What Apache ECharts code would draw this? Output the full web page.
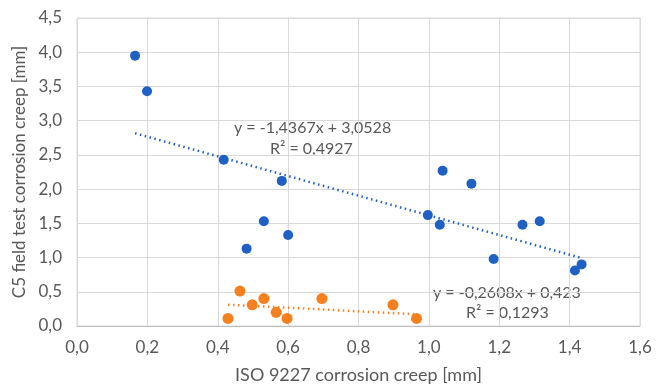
<!DOCTYPE html>
<html>
<head>
<meta charset="utf-8">
<script src="https://cdn.jsdelivr.net/npm/echarts@6/dist/echarts.min.js"></script>
<style>
  html, body { margin: 0; padding: 0; background: #fff; }
  #chart { width: 666px; height: 384px; }
</style>
</head>
<body>
<div id="chart"></div>
<script>
// values: [ISO 9227, C5 field test]
var bluePoints = [
    [0.165, 3.95], [0.199, 3.43], [0.417, 2.43], [0.582, 2.12],
    [0.531, 1.53], [0.482, 1.13], [0.600, 1.33], [1.039, 2.27],
    [1.121, 2.08], [0.997, 1.62], [1.031, 1.48], [1.266, 1.48],
    [1.315, 1.53], [1.184, 0.98], [1.415, 0.81], [1.434, 0.90]
];
var orangePoints = [
    [0.429, 0.11], [0.463, 0.51], [0.498, 0.31], [0.531, 0.40],
    [0.566, 0.20], [0.597, 0.11], [0.696, 0.40], [0.898, 0.31],
    [0.965, 0.11]
];
// trend line ends
var blueTrend = [[0.165, 2.816], [1.434, 0.993]];
var orangeTrend = [[0.429, 0.311], [0.965, 0.171]];
var blueLabel = ['y = -1,4367x + 3,0528', 'R² = 0,4927'];
var orangeLabel = ['y = -0,2608x + 0,423', 'R² = 0,1293'];

var FONT = 'Lato';
var GREY = '#595959';
var BLUE = '#1f60c4';
var ORANGE = '#f7801e';

function comma(v, d) {
    return v.toFixed(d).replace('.', ',');
}

var myChart = echarts.init(document.getElementById('chart'));

var option = {
    animation: false,
    textStyle: { fontFamily: FONT },
    grid: {
        left: 77,
        right: 26,
        top: 18,
        bottom: 58,
        outerBoundsMode: 'none',
        containLabel: false,
        show: true,
        borderColor: '#d9d9d9',
        borderWidth: 1
    },
    xAxis: {
        type: 'value',
        min: 0,
        max: 1.6,
        interval: 0.2,
        name: 'ISO 9227 corrosion creep [mm]',
        nameLocation: 'middle',
        nameGap: 40,
        nameTextStyle: { color: GREY, fontSize: 18, fontFamily: FONT },
        axisLine: { lineStyle: { color: '#bfbfbf' } },
        axisTick: { show: false },
        axisLabel: {
            color: GREY, fontSize: 17, margin: 13,
            formatter: function (v) { return comma(v, 1); }
        },
        splitLine: { lineStyle: { color: '#d9d9d9' } }
    },
    yAxis: {
        type: 'value',
        min: 0,
        max: 4.5,
        interval: 0.5,
        name: 'C5 field test corrosion creep [mm]',
        nameLocation: 'middle',
        nameGap: 49,
        nameTextStyle: { color: GREY, fontSize: 17, fontFamily: FONT },
        axisLine: { show: false },
        axisTick: { show: false },
        axisLabel: {
            color: GREY, fontSize: 17, margin: 15,
            formatter: function (v) { return comma(v, 1); }
        },
        splitLine: { lineStyle: { color: '#d9d9d9' } }
    },
    series: [
        {
            name: 'blue trend',
            type: 'line',
            data: blueTrend,
            symbol: 'none',
            lineStyle: { color: BLUE, width: 2.5, type: [1.5, 3.5] },
            silent: true
        },
        {
            name: 'orange trend',
            type: 'line',
            data: orangeTrend,
            symbol: 'none',
            lineStyle: { color: ORANGE, width: 2.5, type: [1.5, 3.5] },
            silent: true
        },
        {
            name: 'blue',
            type: 'scatter',
            data: bluePoints,
            symbolSize: 10,
            itemStyle: { color: BLUE, opacity: 1 }
        },
        {
            name: 'orange',
            type: 'scatter',
            data: orangePoints,
            symbolSize: 11,
            itemStyle: { color: ORANGE, opacity: 1 }
        }
    ],
    graphic: [
        {
            type: 'text', left: 234, top: 120,
            style: { text: blueLabel[0], fill: GREY, font: '16px ' + FONT }
        },
        {
            type: 'text', left: 270, top: 141,
            style: { text: blueLabel[1], fill: GREY, font: '16px ' + FONT }
        },
        {
            type: 'text', left: 433, top: 285,
            style: { text: orangeLabel[0], fill: GREY, font: '16px ' + FONT }
        },
        {
            type: 'text', left: 466, top: 305,
            style: { text: orangeLabel[1], fill: GREY, font: '16px ' + FONT }
        }
    ]
};

myChart.setOption(option);
</script>
</body>
</html>
